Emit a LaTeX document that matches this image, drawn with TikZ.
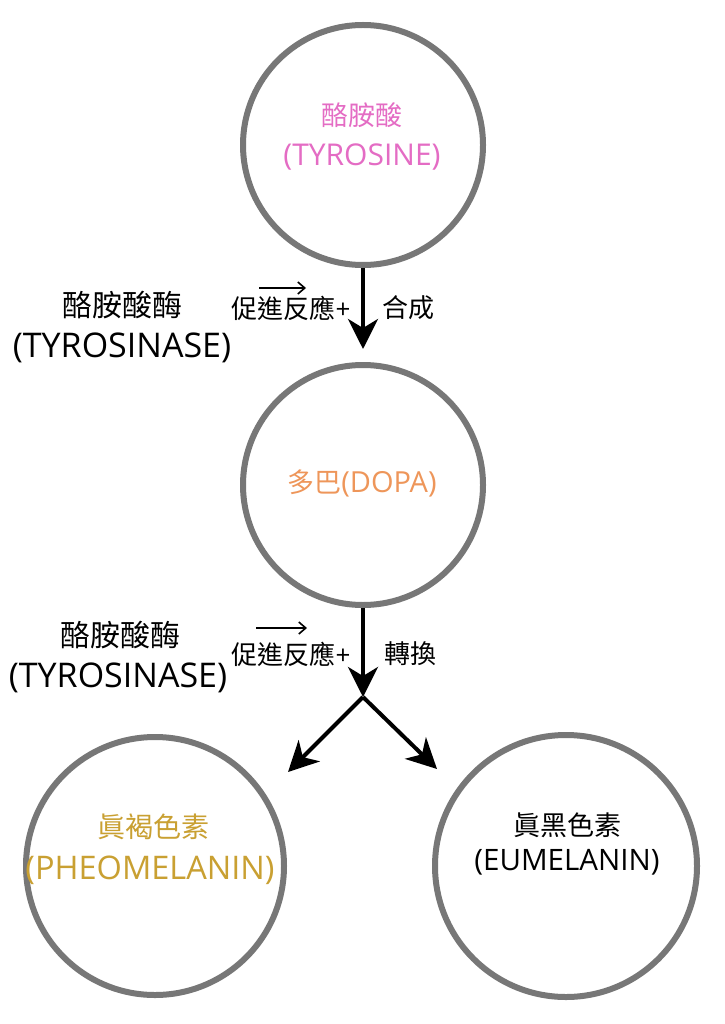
\documentclass[tikz,border=0pt]{standalone}
\usepackage{fontspec}
\setmainfont{Open Sans}
\newfontfamily\cjk{Noto Sans CJK TC}
\usetikzlibrary{arrows.meta}
\definecolor{ringgray}{HTML}{777777}
\definecolor{pinkc}{HTML}{E46CC4}
\definecolor{orangec}{HTML}{EE965A}
\definecolor{goldc}{HTML}{C9A032}
\begin{document}
\begin{tikzpicture}[x=1pt,y=-1pt,
  ring/.style={circle,draw=ringgray,line width=6pt,inner sep=0pt,fill=white},
  flow/.style={line width=4pt,-{Stealth[length=30pt,width=30pt,inset=9pt]}},
  lbl/.style={inner sep=0pt,align=center},
  big/.style={font=\fontsize{30}{36}\selectfont},
  bigl/.style={font=\fontsize{34}{40}\selectfont},
  mid/.style={font=\fontsize{26}{30}\selectfont},
  inc/.style={font=\fontsize{27}{32}\selectfont},
  tiny/.style={line width=1.6pt,-{Straight Barb[length=7pt,width=12pt]}}
]
\useasboundingbox (0,0) rectangle (724,1024);
% circles
\node[ring,minimum size=240pt] (tyr) at (363,145) {};
\node[ring,minimum size=240pt] (dopa) at (363,485) {};
\node[ring,minimum size=258pt] (pheo) at (155,866) {};
\node[ring,minimum size=262pt] (eu) at (566,866) {};
% circle texts
\node[lbl,inc,text=pinkc] (t1) at (362,115) {{\cjk 酪胺酸}};
\node[lbl,font=\fontsize{30}{36}\selectfont,text=pinkc] (t2) at (362,157) {(TYROSINE)};
\node[lbl,inc,text=orangec] (d1) at (362,483) {{\cjk 多巴}{\fontsize{29}{34}\selectfont(DOPA)}};
\node[lbl,font=\fontsize{28}{32}\selectfont,text=goldc] (p1) at (153,827) {{\cjk 眞褐色素}};
\node[lbl,font=\fontsize{32.5}{38}\selectfont,text=goldc] (p2) at (150,870) {(PHEOMELANIN)};
\node[lbl,inc] (e1) at (567,825) {{\cjk 眞黑色素}};
\node[lbl,font=\fontsize{29.5}{35}\selectfont] (e2) at (567,862) {(EUMELANIN)};
% left labels
\node[lbl,big] (l1a) at (122,305) {{\cjk 酪胺酸酶}};
\node[lbl,bigl] (l1b) at (122,348) {(TYROSINASE)};
\node[lbl,big] (l2a) at (120,635) {{\cjk 酪胺酸酶}};
\node[lbl,bigl] (l2b) at (118,678) {(TYROSINASE)};
% middle labels
\node[lbl,mid] (m1) at (291,308) {{\cjk 促進反應}+};
\node[lbl,mid] (r1) at (408,308) {{\cjk 合成}};
\node[lbl,mid] (m2) at (291,654) {{\cjk 促進反應}+};
\node[lbl,mid] (r2) at (410,654) {{\cjk 轉換}};
% small arrows
\coordinate (s1a) at (259,288);
\coordinate (s1b) at (306,288);
\coordinate (s2a) at (256,628);
\coordinate (s2b) at (307,628);
\draw[tiny] (s1a) -- (s1b);
\draw[tiny] (s2a) -- (s2b);
% main arrows
\coordinate (j) at (363,697);
\coordinate (pl) at (288,772);
\coordinate (pr) at (437,769);
\draw[flow,shorten >=13pt] (tyr.south) -- (dopa.north);
\draw[flow] (dopa.south) -- (j);
\draw[flow] (j) -- (pl);
\draw[flow] (j) -- (pr);
\end{tikzpicture}
\end{document}
